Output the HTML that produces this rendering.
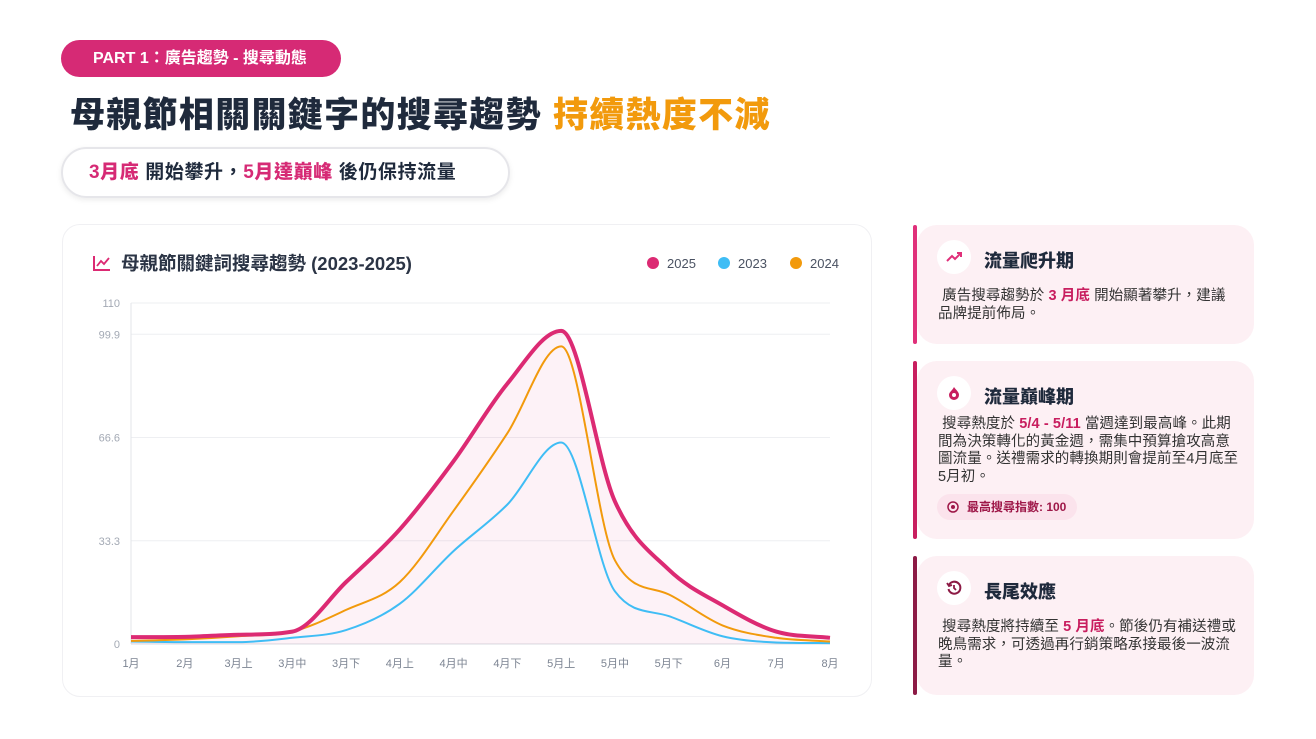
<!DOCTYPE html>
<html><head><meta charset="utf-8">
<style>
*{margin:0;padding:0;box-sizing:border-box}
body{width:1316px;height:739px;background:#fff;font-family:"Liberation Sans","Noto Sans CJK TC",sans-serif;position:relative;overflow:hidden;color:#1f2a3c}
.tag{position:absolute;left:61px;top:40px;width:280px;height:37px;border-radius:19px;background:#d62a75;color:#fff;font-weight:700;font-size:16px;line-height:37px;padding-left:32px}
h1{position:absolute;left:70px;top:87px;font-size:35px;font-weight:900;color:#1f2a3c;letter-spacing:1.3px;white-space:nowrap}
h1 span{color:#f29a0c}
.sub{position:absolute;left:61px;top:147px;width:449px;height:51px;border-radius:26px;border:2px solid #e6e6ea;box-shadow:0 2px 6px rgba(0,0,0,.08);font-size:19px;font-weight:700;line-height:47px;padding-left:26px;letter-spacing:0.6px;white-space:nowrap}
.sub b{color:#d62a75}
.chartbox{position:absolute;left:62px;top:224px;width:810px;height:473px;border:1px solid #f0f0f3;border-radius:18px;background:#fff}
.card{position:absolute;left:917px;width:337px;border-radius:20px;background:#fdf0f4}
.bar{position:absolute;left:913px;width:4px;border-radius:2px}
.ic{position:absolute;left:20px;top:15px;width:34px;height:34px;border-radius:50%;background:#fff;display:flex;align-items:center;justify-content:center}
.ct{position:absolute;left:67px;top:22px;font-size:18px;font-weight:900}
.cb{position:absolute;left:21px;font-size:14.5px;line-height:17.5px;color:#333;width:302px;letter-spacing:0.1px}
.cb b{color:#c81e5f}
.pill{position:absolute;left:20px;top:133px;width:140px;height:26px;border-radius:13px;background:#fbe3ec;font-size:12px;font-weight:700;color:#9e1748;line-height:26px;padding-left:30px}
</style></head><body>
<div class="tag">PART 1：廣告趨勢 - 搜尋動態</div>
<h1>母親節相關關鍵字的搜尋趨勢 <span>持續熱度不減</span></h1>
<div class="sub"><b>3月底</b> 開始攀升，<b>5月達巔峰</b> 後仍保持流量</div>

<div class="chartbox"></div>
<svg id="chart" style="position:absolute;left:0;top:0" width="1316" height="739"></svg>

<div class="bar" style="top:225px;height:119px;background:#e0307a"></div>
<div class="card" style="top:225px;height:119px">
<div class="ic"><svg width="16" height="12" viewBox="0 0 16 12"><polyline points="1,10 6,5 9,8 15,2" fill="none" stroke="#e0307a" stroke-width="2"/><polyline points="11,2 15,2 15,6" fill="none" stroke="#e0307a" stroke-width="2"/></svg></div>
<div class="ct">流量爬升期</div>
<div class="cb" style="top:63px">&nbsp;廣告搜尋趨勢於 <b>3 月底</b> 開始顯著攀升，建議品牌提前佈局。</div>
</div>

<div class="bar" style="top:361px;height:178px;background:#c81e5f"></div>
<div class="card" style="top:361px;height:178px">
<div class="ic"><svg width="14" height="14" viewBox="0 0 14 14"><path d="M7 1 C9 4 12 6 12 9 A5 5 0 0 1 2 9 C2 6 5 5 7 1Z" fill="#c81e5f"/><circle cx="7" cy="9" r="2" fill="#fff"/></svg></div>
<div class="ct">流量巔峰期</div>
<div class="cb" style="top:55px">&nbsp;搜尋熱度於 <b>5/4 - 5/11</b> 當週達到最高峰。此期間為決策轉化的黃金週，需集中預算搶攻高意圖流量。送禮需求的轉換期則會提前至4月底至5月初。</div>
<div class="pill"><svg style="position:absolute;left:10px;top:7px" width="12" height="12"><circle cx="6" cy="6" r="5" fill="none" stroke="#9e1748" stroke-width="1.5"/><circle cx="6" cy="6" r="2" fill="#9e1748"/></svg>最高搜尋指數: 100</div>
</div>

<div class="bar" style="top:556px;height:139px;background:#8c1a45"></div>
<div class="card" style="top:556px;height:139px">
<div class="ic"><svg width="16" height="16" viewBox="0 0 16 16"><path d="M3 5 A6 6 0 1 1 2.5 9" fill="none" stroke="#8c1a45" stroke-width="2"/><polyline points="1,3 3,6 6,5" fill="none" stroke="#8c1a45" stroke-width="1.8"/><polyline points="8,5 8,8 10,10" fill="none" stroke="#8c1a45" stroke-width="1.8"/></svg></div>
<div class="ct">長尾效應</div>
<div class="cb" style="top:63px">&nbsp;搜尋熱度將持續至 <b>5 月底</b>。節後仍有補送禮或晚鳥需求，可透過再行銷策略承接最後一波流量。</div>
</div>

<script>
const categories=["1月","2月","3月上","3月中","3月下","4月上","4月中","4月下","5月上","5月中","5月下","6月","7月","8月"];
const s2025=[2.2,2.3,3.0,4,20,37,59,84,101,46,24,12.5,4,2];
const s2023=[0.8,0.6,0.6,2,4.5,13,30,45,65,17,9,2.5,0.5,0.3];
const s2024=[1,1.5,2.5,4,11,20,43,68,96,27,16,6,2,0.8];
const yTicks=[0,33.3,66.6,99.9,110];
const legendNames=["2025","2023","2024"];
const colors=["#dc2a73","#3fbdf5","#f29a0c"];
const NS="http://www.w3.org/2000/svg";
const svg=document.getElementById('chart');
const X0=131,X1=830,Y0=644,Y1=303,YMAX=110;
const xs=i=>X0+(X1-X0)*i/(categories.length-1);
const ys=v=>Y0-(Y0-Y1)*v/YMAX;
function mk(t,a){const e=document.createElementNS(NS,t);for(const k in a)e.setAttribute(k,a[k]);svg.appendChild(e);return e;}
yTicks.forEach(v=>{
 const g=mk('line',{x1:X0,x2:X1,y1:ys(v),y2:ys(v),stroke:v===0?'#d8dbe0':'#eeeff2','stroke-width':1});
 
 
 const t=mk('text',{x:120,y:ys(v)+4,'text-anchor':'end','font-size':11,fill:'#a3a9b4'});
 t.textContent=v;
 
 
});
const ax=mk('line',{x1:X0,x2:X0,y1:Y1,y2:Y0,stroke:'#e3e5e9'});


categories.forEach((c,i)=>{
 const t=mk('text',{x:xs(i),y:667,'text-anchor':'middle','font-size':11,fill:'#7c8492'});
 t.textContent=c;
 
 
});
function path(vals){
 const p=vals.map((v,i)=>[xs(i),ys(v)]);
 const n=p.length,d=[],m=[];
 for(let i=0;i<n-1;i++)d.push((p[i+1][1]-p[i][1])/(p[i+1][0]-p[i][0]));
 m[0]=d[0];m[n-1]=d[n-2];
 for(let i=1;i<n-1;i++)m[i]=(d[i-1]*d[i]<=0)?0:(d[i-1]+d[i])/2;
 for(let i=0;i<n-1;i++){
  if(d[i]===0){m[i]=0;m[i+1]=0;continue;}
  const a=m[i]/d[i],b=m[i+1]/d[i],s=a*a+b*b;
  if(s>9){const t=3/Math.sqrt(s);m[i]=t*a*d[i];m[i+1]=t*b*d[i];}
 }
 let s='M'+p[0][0]+','+p[0][1];
 for(let i=0;i<n-1;i++){
  const h=(p[i+1][0]-p[i][0])/3;
  s+=` C${p[i][0]+h},${p[i][1]+m[i]*h} ${p[i+1][0]-h},${p[i+1][1]-m[i+1]*h} ${p[i+1][0]},${p[i+1][1]}`;
 }
 return s;
}
const area=mk('path',{d:path(s2025)+` L${X1},${Y0} L${X0},${Y0} Z`,fill:'#dc2a73','fill-opacity':0.06});


[[s2023,1,2,'line-2023'],[s2024,2,2,'line-2024'],[s2025,0,4,'line-2025']].forEach(([s,ci,w,nm])=>{
 const l=mk('path',{d:path(s),fill:'none',stroke:colors[ci],'stroke-width':w,'stroke-linejoin':'round'});
 
 
});
const ic=mk('polyline',{points:'94,256 94,270 110,270',fill:'none',stroke:'#dc2a73','stroke-width':2});


const ic2=mk('polyline',{points:'97,266 101,261 104,264 109,258',fill:'none',stroke:'#dc2a73','stroke-width':1.8});


const tt=mk('text',{x:121,y:270,'font-size':18.5,'font-weight':700,fill:'#2b3445'});
tt.textContent='母親節關鍵詞搜尋趨勢 (2023-2025)';


const lx=[653,724,796];
legendNames.forEach((nm,i)=>{
 const c=mk('circle',{cx:lx[i],cy:263,r:6,fill:colors[i]});
 
 
 const t=mk('text',{x:lx[i]+14,y:268,'font-size':13,fill:'#4a5262'});
 t.textContent=nm;
 
 
});
</script>
</body></html>
